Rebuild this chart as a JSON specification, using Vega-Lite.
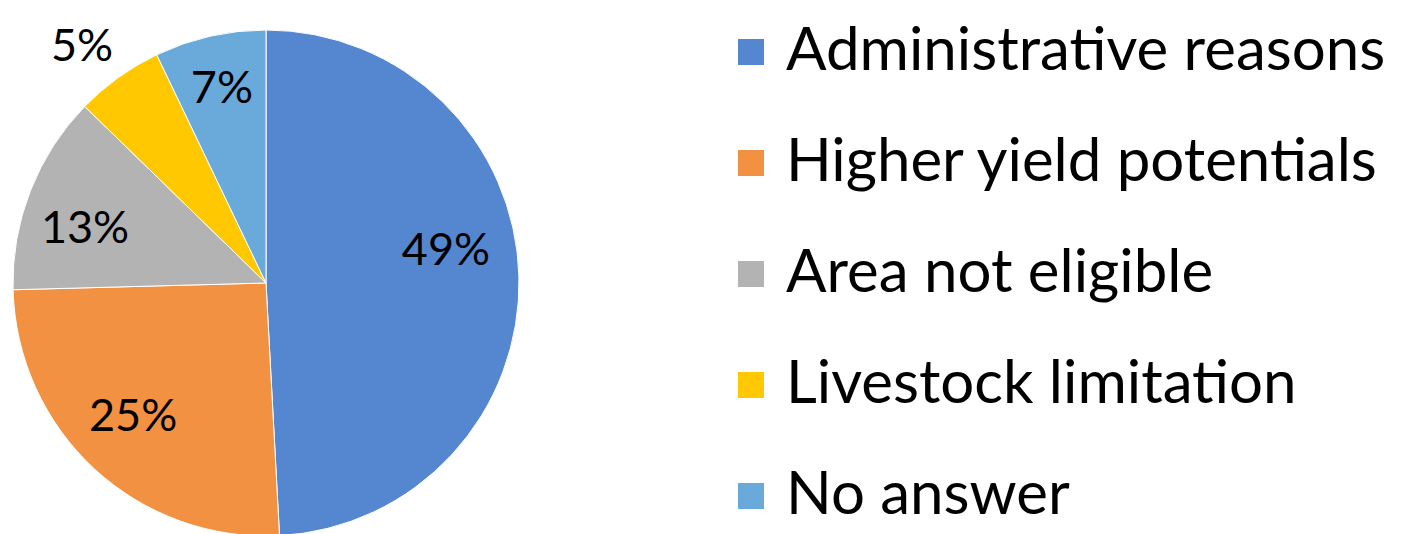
{
  "$schema": "https://vega.github.io/schema/vega-lite/v6.json",
  "autosize": "none",
  "width": 532,
  "height": 502,
  "padding": {"left": 0, "top": 32, "right": 879, "bottom": 0},
  "background": "white",
  "config": {"view": {"stroke": null}, "font": "Lato"},
  "data": {
    "values": [
      {"idx": 1, "reason": "Administrative reasons", "share": 49.1, "label": "49%"},
      {"idx": 2, "reason": "Higher yield potentials", "share": 25.4, "label": "25%"},
      {"idx": 3, "reason": "Area not eligible", "share": 12.7, "label": "13%"},
      {"idx": 4, "reason": "Livestock limitation", "share": 5.6, "label": "5%"},
      {"idx": 5, "reason": "No answer", "share": 7.1, "label": "7%"}
    ]
  },
  "encoding": {
    "theta": {"field": "share", "type": "quantitative", "stack": true},
    "order": {"field": "idx", "type": "quantitative"},
    "text": {"field": "label"}
  },
  "layer": [
    {
      "mark": {"type": "arc", "outerRadius": 253, "stroke": "white", "strokeWidth": 1},
      "encoding": {
        "text": null,
        "color": {
          "field": "reason",
          "type": "nominal",
          "sort": null,
          "scale": {
            "domain": ["Administrative reasons", "Higher yield potentials", "Area not eligible", "Livestock limitation", "No answer"],
            "range": ["#5587D0", "#F19141", "#B3B3B3", "#FFC800", "#6AAADB"]
          },
          "legend": {
            "title": null,
            "orient": "none",
            "legendX": 721,
            "legendY": -10,
            "padding": 0,
            "symbolType": "square",
            "symbolSize": 676,
            "symbolStrokeWidth": 0,
            "labelFontSize": 60,
            "labelColor": "black",
            "labelOffset": 5,
            "labelLimit": 0,
            "rowPadding": 51
          }
        }
      }
    },
    {
      "mark": {"type": "text", "radius": 180, "dy": -27, "fontSize": 45, "fill": "black"},
      "encoding": {"opacity": {"condition": {"test": "datum.idx == 1", "value": 1}, "value": 0}}
    },
    {
      "mark": {"type": "text", "radius": 190, "dx": -4, "dy": -6, "fontSize": 45, "fill": "black"},
      "encoding": {"opacity": {"condition": {"test": "datum.idx == 2", "value": 1}, "value": 0}}
    },
    {
      "mark": {"type": "text", "radius": 190, "dx": -4, "dy": 15, "fontSize": 45, "fill": "black"},
      "encoding": {"opacity": {"condition": {"test": "datum.idx == 3", "value": 1}, "value": 0}}
    },
    {
      "mark": {"type": "text", "radius": 295, "dx": -12, "dy": 4, "fontSize": 45, "fill": "black"},
      "encoding": {"opacity": {"condition": {"test": "datum.idx == 4", "value": 1}, "value": 0}}
    },
    {
      "mark": {"type": "text", "radius": 199, "fontSize": 45, "fill": "black"},
      "encoding": {"opacity": {"condition": {"test": "datum.idx == 5", "value": 1}, "value": 0}}
    }
  ]
}
